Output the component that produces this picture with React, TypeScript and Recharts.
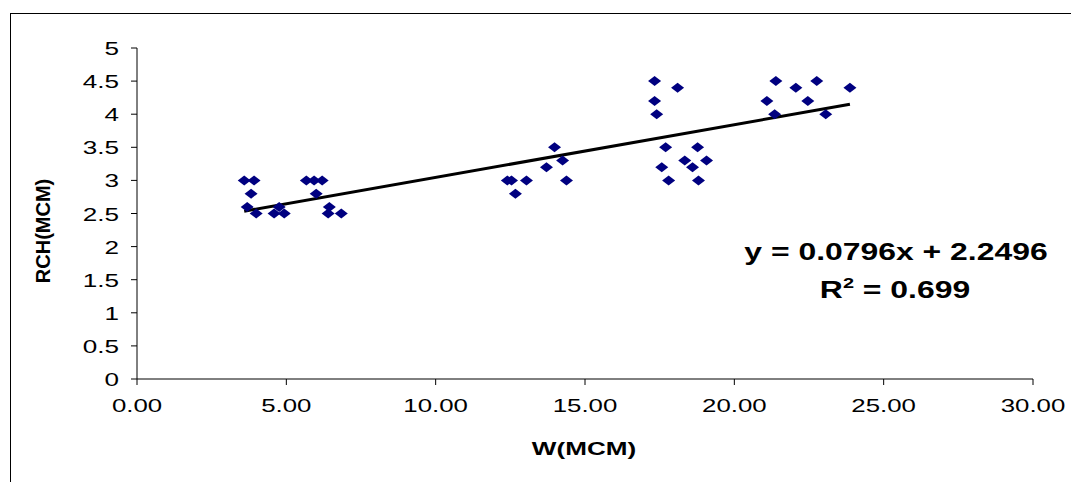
import React from 'react';
import { ScatterChart, Scatter, XAxis, YAxis, ReferenceLine } from 'recharts';

// W (MCM) and RCH (MCM), one entry per marker
const W_MCM = [
  3.59, 3.92, 3.82, 3.69, 3.99, 4.59, 4.76, 4.93, 5.67, 5.93, 6.2, 6.0, 6.44, 6.4, 6.84,
  12.4, 12.54, 13.04, 12.67, 13.71, 13.98, 14.25, 14.38,
  17.33, 18.1, 17.33, 17.4, 17.7, 18.77, 17.57, 18.34, 18.6, 19.07, 17.8, 18.8,
  21.39, 22.76, 22.06, 23.87, 21.09, 22.46, 21.35, 23.06,
];
const RCH_MCM = [
  3.0, 3.0, 2.8, 2.6, 2.5, 2.5, 2.6, 2.5, 3.0, 3.0, 3.0, 2.8, 2.6, 2.5, 2.5,
  3.0, 3.0, 3.0, 2.8, 3.2, 3.5, 3.3, 3.0,
  4.5, 4.4, 4.2, 4.0, 3.5, 3.5, 3.2, 3.3, 3.2, 3.3, 3.0, 3.0,
  4.5, 4.5, 4.4, 4.4, 4.2, 4.2, 4.0, 4.0,
];

const X_TICKS = [0, 5, 10, 15, 20, 25, 30];
const Y_TICKS = [0, 0.5, 1, 1.5, 2, 2.5, 3, 3.5, 4, 4.5, 5];

const SLOPE = 0.0796;
const INTERCEPT = 2.2496;
const R2 = 0.699;

const points = W_MCM.map((w, i) => ({ w, rch: RCH_MCM[i] }));
const xMin = Math.min(...W_MCM);
const xMax = Math.max(...W_MCM);

const FONT = '"Liberation Sans", Arial, sans-serif';

const Diamond = (props: any) => {
  const { cx, cy } = props;
  if (cx == null || cy == null) return null;
  return (
    <polygon
      points={`${cx - 6.5},${cy} ${cx},${cy - 5} ${cx + 6.5},${cy} ${cx},${cy + 5}`}
      fill="#000080"
    />
  );
};

const XTick = (props: any) => {
  const { x, y, payload } = props;
  return (
    <g transform={`translate(${x},${y}) scale(1.36,1)`}>
      <text x={0} y={25} textAnchor="middle" fontFamily={FONT} fontSize={19} fill="#000">
        {Number(payload.value).toFixed(2)}
      </text>
    </g>
  );
};

const YTick = (props: any) => {
  const { x, y, payload } = props;
  return (
    <g transform={`translate(${x},${y}) scale(1.45,1)`}>
      <text x={0} y={7} textAnchor="end" fontFamily={FONT} fontSize={18} fill="#000">
        {String(payload.value)}
      </text>
    </g>
  );
};

export default function App() {
  return (
    <div
      style={{
        position: 'absolute',
        left: 0,
        top: 0,
        width: 1071,
        height: 482,
        background: '#fff',
        overflow: 'hidden',
      }}
    >
      <div
        style={{
          position: 'absolute',
          left: 10,
          top: 13,
          width: 1080,
          height: 480,
          borderLeft: '1px solid #000',
          borderTop: '1px solid #000',
        }}
      />
      <ScatterChart
        width={1071}
        height={482}
        margin={{ top: 48, right: 38, bottom: 0, left: 0 }}
        style={{ position: 'absolute', left: 0, top: 0 }}
      >
        <XAxis
          type="number"
          dataKey="w"
          domain={[0, 30]}
          ticks={X_TICKS}
          height={103}
          stroke="#000"
          tickLine={{ stroke: '#000' }}
          tickSize={6}
          tickMargin={2}
          tick={<XTick />}
        />
        <YAxis
          type="number"
          dataKey="rch"
          domain={[0, 5]}
          ticks={Y_TICKS}
          width={137}
          stroke="#000"
          tickLine={{ stroke: '#000' }}
          tickSize={6}
          tickMargin={12}
          tick={<YTick />}
        />
        <Scatter data={points} shape={<Diamond />} isAnimationActive={false} />
        <ReferenceLine
          segment={[
            { x: xMin, y: SLOPE * xMin + INTERCEPT },
            { x: xMax, y: SLOPE * xMax + INTERCEPT },
          ]}
          stroke="#000"
          strokeWidth={3}
        />
      </ScatterChart>
      <svg
        width={1071}
        height={482}
        style={{ position: 'absolute', left: 0, top: 0, pointerEvents: 'none' }}
      >
        <text
          transform="translate(50,231) rotate(-90)"
          textAnchor="middle"
          fontFamily={FONT}
          fontWeight="bold"
          fontSize={20}
          fill="#000"
        >
          RCH(MCM)
        </text>
        <text
          transform="translate(584,455) scale(1.45,1)"
          textAnchor="middle"
          fontFamily={FONT}
          fontWeight="bold"
          fontSize={18}
          fill="#000"
        >
          W(MCM)
        </text>
        <text
          transform="translate(896,260) scale(1.33,1)"
          textAnchor="middle"
          fontFamily={FONT}
          fontWeight="bold"
          fontSize={24}
          fill="#000"
        >
          {`y = ${SLOPE}x + ${INTERCEPT}`}
        </text>
        <text
          transform="translate(895,298) scale(1.33,1)"
          textAnchor="middle"
          fontFamily={FONT}
          fontWeight="bold"
          fontSize={24}
          fill="#000"
        >
          R<tspan fontSize={15} dy={-10}>2</tspan>
          <tspan dy={10}>{` = ${R2}`}</tspan>
        </text>
      </svg>
    </div>
  );
}
